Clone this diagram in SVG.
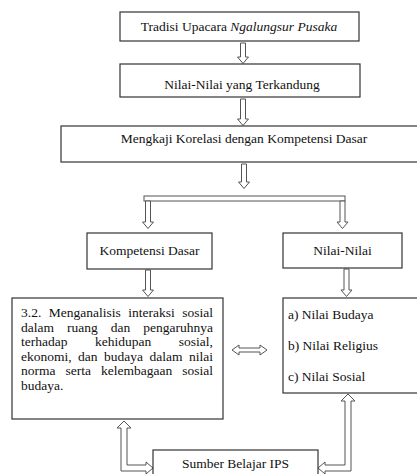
<svg xmlns="http://www.w3.org/2000/svg" width="417" height="474" viewBox="0 0 417 474">
<style>
.box{fill:#fff;stroke:#333;stroke-width:1.2}
.arr{fill:#fff;stroke:#555;stroke-width:1}
text{font-family:"Liberation Serif","Times New Roman",serif;font-size:13.5px;fill:#111}
.c{text-anchor:middle}
.e{text-anchor:end}
</style>
<rect width="417" height="474" fill="#fff"/>
<g id="connectors">
<polygon class="arr" points="240.5,43 245.5,43 245.5,57 248.5,57 243,63.5 237.5,57 240.5,57"/>
<polygon class="arr" points="240.5,99 245.5,99 245.5,119 248.5,119 243,125.5 237.5,119 240.5,119"/>
<polygon class="arr" points="241.5,164 246.5,164 246.5,182 249.5,182 244,188.5 238.5,182 241.5,182"/>
<rect class="arr" x="144" y="196" width="201" height="5"/>
<polygon class="arr" points="145.5,201 150.5,201 150.5,222 153.5,222 148,228.5 142.5,222 145.5,222"/>
<polygon class="arr" points="340,201 345,201 345,222 348,222 342.5,228.5 337,222 340,222"/>
<polygon class="arr" points="145.5,270 150.5,270 150.5,290 153.5,290 148,296.5 142.5,290 145.5,290"/>
<polygon class="arr" points="344,269 349,269 349,290 352,290 346.5,296.5 341,290 344,290"/>
<polygon class="arr" points="232,350 239,345 239,348 260,348 260,345 267,350 260,355 260,352 239,352 239,355"/>
<polygon class="arr" points="124,421 131,428 127,428 127,465 146,465 146,462 153,468 146,474 146,471 121,471 121,428 117,428"/>
<polygon class="arr" points="348,394 355,401 351,401 351,471 325,471 325,474 318,468 325,462 325,465 345,465 345,401 341,401"/>
</g>
<g id="n1"><rect class="box" x="120" y="12" width="239" height="29"/>
<text class="c" x="239" y="30.5">Tradisi Upacara <tspan font-style="italic">Ngalungsur Pusaka</tspan></text></g>
<g id="n2"><rect class="box" x="120" y="64" width="240" height="33"/>
<text class="c" x="242" y="88.5">Nilai-Nilai yang Terkandung</text></g>
<g id="n3"><rect class="box" x="61" y="126" width="370" height="36"/>
<text class="c" x="244" y="143">Mengkaji Korelasi dengan Kompetensi Dasar</text></g>
<g id="n4"><rect class="box" x="87" y="233" width="125" height="36"/>
<text class="c" x="149.5" y="255">Kompetensi Dasar</text></g>
<g id="n5"><rect class="box" x="283" y="233" width="119" height="35"/>
<text class="c" x="342.5" y="255">Nilai-Nilai</text></g>
<g id="n6"><rect class="box" x="12" y="298" width="211" height="121"/>
<text y="317"><tspan x="21">3.2.</tspan><tspan x="48.75">Menganalisis</tspan><tspan x="128.25">interaksi</tspan><tspan x="213" class="e">sosial</tspan></text>
<text y="331.5"><tspan x="21">dalam</tspan><tspan x="67">ruang</tspan><tspan x="110.7">dan</tspan><tspan x="213" class="e">pengaruhnya</tspan></text>
<text y="346"><tspan x="21">terhadap</tspan><tspan x="95.1">kehidupan</tspan><tspan x="213" class="e">sosial,</tspan></text>
<text y="360.5"><tspan x="21">ekonomi,</tspan><tspan x="78.1">dan</tspan><tspan x="104.1">budaya</tspan><tspan x="149.6">dalam</tspan><tspan x="213" class="e">nilai</tspan></text>
<text y="375"><tspan x="21">norma</tspan><tspan x="65.5">serta</tspan><tspan x="101">kelembagaan</tspan><tspan x="213" class="e">sosial</tspan></text>
<text x="21" y="389.5">budaya.</text></g>
<g id="n7"><rect class="box" x="283" y="298" width="150" height="95"/>
<text x="288" y="319">a) Nilai Budaya</text>
<text x="288" y="350">b) Nilai Religius</text>
<text x="288" y="381">c) Nilai Sosial</text></g>
<g id="n8"><rect class="box" x="153" y="450" width="165" height="30"/>
<text class="c" x="235.5" y="468">Sumber Belajar IPS</text></g>
</svg>
